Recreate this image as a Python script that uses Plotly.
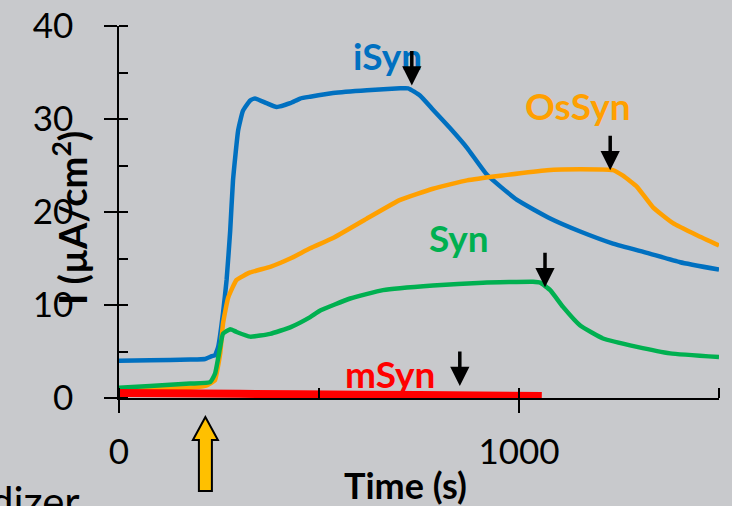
import plotly.graph_objects as go

# ---------------- data (time in s, current density in µA/cm²) ----------------
isyn_t = [0, 78, 178, 215, 232, 240, 248, 260, 269, 278, 285, 298, 310, 328, 340,
          369, 394, 428, 453, 478, 535, 620, 703, 723, 753, 785, 828, 870, 920,
          995, 1078, 1153, 1235, 1320, 1403, 1500]
isyn_i = [4.0, 4.05, 4.13, 4.2, 4.5, 4.6, 5.5, 9.1, 12.7, 18.0, 23.4, 28.8, 30.9, 32.0, 32.2,
          31.7, 31.3, 31.7, 32.2, 32.4, 32.8, 33.1, 33.3, 33.3, 32.5, 31.0, 29.0, 26.9, 24.0,
          21.3, 19.3, 17.9, 16.6, 15.6, 14.6, 13.8]

ossyn_t = [0, 78, 178, 215, 233, 240, 253, 260, 273, 294, 328, 378, 428, 478, 535,
           620, 703, 785, 870, 953, 1070, 1153, 1235, 1260, 1295, 1335, 1385, 1445, 1500]
ossyn_i = [0.95, 1.0, 1.1, 1.3, 1.7, 1.9, 4.8, 8.0, 10.8, 12.7, 13.5, 14.1, 15.0, 16.1, 17.2,
           19.3, 21.3, 22.5, 23.4, 23.9, 24.5, 24.6, 24.5, 23.9, 22.7, 20.5, 18.8, 17.5, 16.4]

syn_t = [0, 78, 178, 228, 240, 253, 260, 278, 294, 328, 378, 428, 478, 503, 578,
         660, 785, 910, 1035, 1053, 1078, 1110, 1153, 1210, 1295, 1378, 1500]
syn_i = [1.1, 1.3, 1.55, 1.7, 2.6, 5.5, 6.9, 7.4, 7.1, 6.6, 6.9, 7.6, 8.7, 9.4, 10.7,
         11.6, 12.1, 12.4, 12.5, 12.4, 11.6, 9.8, 7.8, 6.4, 5.5, 4.8, 4.4]

msyn_t = [0, 300, 600, 900, 1057]
msyn_i = [0.55, 0.45, 0.35, 0.28, 0.22]

series_names = ["iSyn", "OsSyn", "Syn", "mSyn"]
series_colors = ["#0070C0", "#FFA000", "#00B050", "#FF0000"]

# label positions (time, current) and end-of-run arrows (time, current at tip)
label_t = [670, 1147, 850, 677]
label_i = [36.8, 31.5, 17.3, 2.6]
stop_t = [732, 1228, 1065, 852]
stop_i = [33.6, 24.5, 11.9, 1.3]

inject_t = 216  # yellow arrow: injection time

x_ticks = [0, 1000]
y_ticks = [0, 10, 20, 30, 40]

# ---------------- figure ----------------
W, H = 732, 506
ML, MR, MT, MB = 119, 13, 26, 108
XR = [0, 1500]
YR = [0, 40]
pw, ph = W - ML - MR, H - MT - MB


def px_x(px):
    return (px - ML) / pw


def px_y(py):
    return (H - MB - py) / ph


fig = go.Figure()
data = [(isyn_t, isyn_i, 4.5), (ossyn_t, ossyn_i, 4.5), (syn_t, syn_i, 4.5), (msyn_t, msyn_i, 8)]
for (t, i, w), name, col in zip(data, series_names, series_colors):
    fig.add_trace(go.Scatter(x=t, y=i, mode="lines", name=name,
                             line=dict(color=col, width=w, shape="spline", smoothing=0.4),
                             showlegend=False, hoverinfo="skip"))

# invisible trace for overlay axes (inner halves of major ticks)
fig.add_trace(go.Scatter(x=[None], y=[None], xaxis="x2", yaxis="y2", showlegend=False))

ann = []
for name, col, lt, li in zip(series_names, series_colors, label_t, label_i):
    ann.append(dict(x=lt, y=li, xref="x", yref="y", text=f"<b>{name}</b>", showarrow=False,
                    font=dict(family="Lato", size=37, color=col)))
for st, si in zip(stop_t, stop_i):
    ann.append(dict(x=st, y=si, xref="x", yref="y", text="", showarrow=True, ax=0, ay=-36,
                    arrowhead=2, arrowsize=1.1, arrowwidth=3.5, arrowcolor="black"))

ann.append(dict(x=px_x(43), y=px_y(218), xref="paper", yref="paper", textangle=-90,
                text="<b>I (µA/cm<sup>2</sup>)</b>", showarrow=False,
                font=dict(family="Lato", size=38, color="black")))
ann.append(dict(x=px_x(405), y=px_y(509), xref="paper", yref="paper",
                text="<b>Time (s)</b>", showarrow=False,
                font=dict(family="Lato", size=36, color="black")))
ann.append(dict(x=px_x(82), y=px_y(474), xref="paper", yref="paper", xanchor="right", yanchor="top",
                text="Oxidizer", showarrow=False,
                font=dict(family="Lato", size=42, color="black")))

# yellow up arrow marking injection
xc = inject_t / (XR[1] - XR[0])
hw, sw = 12.5 / pw, 6.5 / pw
y_tip, y_base, y_bot = px_y(417), px_y(440), px_y(491)
path = (f"M{xc},{y_tip} L{xc - hw},{y_base} L{xc - sw},{y_base} L{xc - sw},{y_bot} "
        f"L{xc + sw},{y_bot} L{xc + sw},{y_base} L{xc + hw},{y_base} Z")
shapes = [dict(type="path", xref="paper", yref="paper", path=path,
               fillcolor="#FFC000", line=dict(color="black", width=2))]

tickfont = dict(family="Lato", size=35, color="black")
fig.update_layout(
    width=W, height=H,
    margin=dict(l=ML, r=MR, t=MT, b=MB, pad=0, autoexpand=False),
    paper_bgcolor="#c8c9cc", plot_bgcolor="#c8c9cc",
    annotations=ann, shapes=shapes,
    xaxis=dict(range=XR, tickvals=x_ticks, ticks="outside", ticklen=13, tickwidth=1.5,
               tickcolor="black", showline=True, linecolor="black", linewidth=1.5,
               showgrid=False, zeroline=False, tickfont=tickfont, ticklabelstandoff=9,
               automargin=False,
               minor=dict(ticks="inside", ticklen=10, tickwidth=1.5, tickcolor="black",
                          tick0=0, dtick=500, showgrid=False)),
    yaxis=dict(range=YR, tickvals=y_ticks, ticks="outside", ticklen=13, tickwidth=1.5,
               tickcolor="black", showline=True, linecolor="black", linewidth=1.5,
               showgrid=False, zeroline=False, tickfont=tickfont, ticklabelstandoff=24,
               automargin=False,
               minor=dict(ticks="inside", ticklen=9, tickwidth=1.5, tickcolor="black",
                          tick0=0, dtick=5, showgrid=False)),
    xaxis2=dict(overlaying="x", anchor="y2", side="bottom", range=XR, tickvals=x_ticks,
                ticks="inside", ticklen=10, tickwidth=1.5, tickcolor="black", automargin=False,
                showticklabels=False, showline=False, showgrid=False, zeroline=False),
    yaxis2=dict(overlaying="y", anchor="x2", side="left", range=YR, tickvals=y_ticks,
                ticks="inside", ticklen=9, tickwidth=1.5, tickcolor="black", automargin=False,
                showticklabels=False, showline=False, showgrid=False, zeroline=False),
)

fig.write_html("out.html", config={"displayModeBar": False},
               post_script="document.body.style.margin='0';document.body.style.overflow='hidden';")
